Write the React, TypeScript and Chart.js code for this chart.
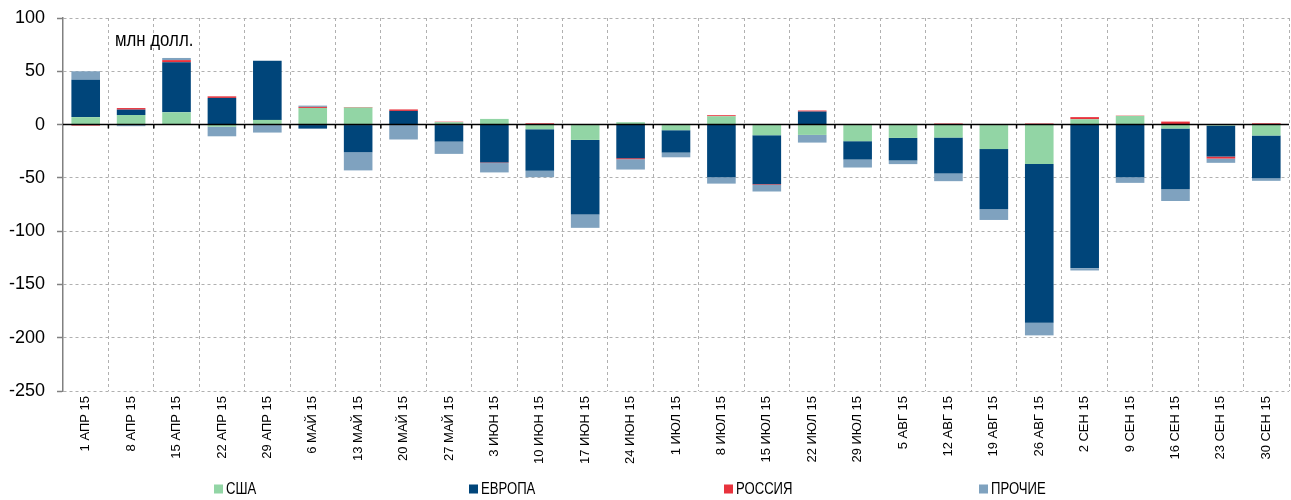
import React, { useEffect, useRef } from "react";
import { Chart, registerables } from "chart.js";

Chart.register(...registerables);

const categories = [
  "1 АПР 15", "8 АПР 15", "15 АПР 15", "22 АПР 15", "29 АПР 15",
  "6 МАЙ 15", "13 МАЙ 15", "20 МАЙ 15", "27 МАЙ 15",
  "3 ИЮН 15", "10 ИЮН 15", "17 ИЮН 15", "24 ИЮН 15",
  "1 ИЮЛ 15", "8 ИЮЛ 15", "15 ИЮЛ 15", "22 ИЮЛ 15", "29 ИЮЛ 15",
  "5 АВГ 15", "12 АВГ 15", "19 АВГ 15", "26 АВГ 15",
  "2 СЕН 15", "9 СЕН 15", "16 СЕН 15", "23 СЕН 15", "30 СЕН 15",
];

const usa = [7, 9, 11.5, -2, 4.4, 15.6, 16, 0, 2.2, 5.3, -4.4, -14.4, 2.2, -5.3, 7.8, -10, -9.7, -15.6, -12.5, -12.2, -23, -36.9, 5, 8.1, -3.7, -1, -10.3];
const europe = [35, 5, 47, 25, 55.6, -3.8, -26, 12.8, -16, -35.6, -39, -70, -31.5, -21, -49.4, -46, 12.2, -17.2, -21.2, -33.7, -56.5, -149, -134.7, -49.4, -57, -29, -40];
const russia = [-1, 1.5, 2, 1.5, 0, 1, 0.5, 1.4, 0.5, -0.5, 1.2, 0, -1, 0.5, 1, -0.6, 1, 0, 0, 1, 0, 1, 2, 0.3, 2.8, -1.9, 1.2];
const others = [8, -1.5, 2, -9, -7.5, 1.2, -17, -14, -11.5, -8.8, -6, -12.5, -9.7, -4.4, -6, -6.2, -7.2, -7.5, -3.4, -7.2, -10, -11.9, -2.2, -5.3, -11, -4, -2.5];

const seriesLabels = ["США", "ЕВРОПА", "РОССИЯ", "ПРОЧИЕ"];
const seriesColors = ["#92D5A5", "#00457A", "#E8333D", "#7FA2BF"];

const yMin = -250;
const yMax = 100;
const yStep = 50;
const unitLabel = "млн долл.";

const FONT = "'Liberation Sans', Arial, sans-serif";

function condensedText(ctx: any, text: string, x: number, y: number, sx: number) {
  ctx.save();
  ctx.translate(x, y);
  ctx.scale(sx, 1);
  ctx.fillText(text, 0, 0);
  ctx.restore();
}

const overlayPlugin = {
  id: "overlay",
  afterDatasetsDraw(chart: any) {
    const { ctx, chartArea, scales } = chart;
    const x = scales.x;
    const y = scales.y;
    const y0 = y.getPixelForValue(0);
    ctx.save();
    ctx.strokeStyle = "#000";
    ctx.lineWidth = 1.5;
    ctx.beginPath();
    ctx.moveTo(chartArea.left, y0);
    ctx.lineTo(chartArea.right, y0);
    const n = chart.data.labels.length;
    for (let i = 1; i < n; i++) {
      const bx = (x.getPixelForValue(i - 1) + x.getPixelForValue(i)) / 2;
      ctx.moveTo(bx, y0);
      ctx.lineTo(bx, y0 + 4);
    }
    ctx.stroke();
    ctx.restore();
  },
  afterDraw(chart: any) {
    const { ctx, chartArea, scales } = chart;
    ctx.save();
    ctx.fillStyle = "#000";
    ctx.font = `20px ${FONT}`;
    ctx.textBaseline = "middle";
    ctx.textAlign = "left";
    condensedText(ctx, unitLabel, chartArea.left + 52, scales.y.getPixelForValue(79), 0.84);
    ctx.font = `16px ${FONT}`;
    chart.data.datasets.forEach((ds: any, i: number) => {
      const bx = 214 + i * 255;
      const by = 489;
      ctx.fillStyle = ds.backgroundColor;
      ctx.fillRect(bx, by - 4.5, 9, 9);
      ctx.fillStyle = "#000";
      condensedText(ctx, ds.label, bx + 12, by + 0.5, 0.82);
    });
    ctx.restore();
  },
};

export default function App() {
  const ref = useRef<HTMLCanvasElement | null>(null);
  useEffect(() => {
    if (!ref.current) return;
    const values = [usa, europe, russia, others];
    const chart = new Chart(ref.current, {
      type: "bar",
      data: {
        labels: categories,
        datasets: values.map((v, i) => ({
          label: seriesLabels[i],
          data: v,
          backgroundColor: seriesColors[i],
          borderWidth: 0,
          barPercentage: 0.63,
          categoryPercentage: 1,
        })),
      },
      options: {
        animation: false,
        responsive: false,
        maintainAspectRatio: false,
        layout: { padding: { top: 18, right: 2, left: 0, bottom: 0 } },
        plugins: { legend: { display: false }, tooltip: { enabled: false }, title: { display: false } },
        scales: {
          x: {
            stacked: true,
            afterFit: (s: any) => { s.height = 109; },
            grid: { color: "#b0b0b0", lineWidth: 1, drawTicks: false, offset: true },
            border: { display: false, dash: [3, 3] },
            ticks: {
              color: "#000",
              font: { family: FONT, size: 13 },
              minRotation: 90,
              maxRotation: 90,
              padding: 5,
              autoSkip: false,
            },
          },
          y: {
            stacked: true,
            min: yMin,
            max: yMax,
            afterFit: (s: any) => {
              s.width = 63;
              s.paddingTop = 0;
              s.paddingBottom = 0;
            },
            grid: {
              color: (c: any) => (c.tick && c.tick.value === 0 ? "rgba(0,0,0,0)" : "#b0b0b0"),
              lineWidth: 1,
              tickLength: 6,
              tickColor: "#808080",
              tickWidth: 1.5,
              tickBorderDash: [],
            },
            border: { display: true, color: "#808080", width: 1.5, dash: [3, 3] },
            ticks: {
              stepSize: yStep,
              color: "#000",
              font: { family: FONT, size: 18 },
              padding: 12,
            },
          },
        },
      },
      plugins: [overlayPlugin],
    });
    return () => chart.destroy();
  }, []);
  return (
    <div style={{ position: "fixed", left: 0, top: 0, width: 1291, height: 500, background: "#fff" }}>
      <canvas ref={ref} width={1291} height={500} style={{ display: "block" }} />
    </div>
  );
}
